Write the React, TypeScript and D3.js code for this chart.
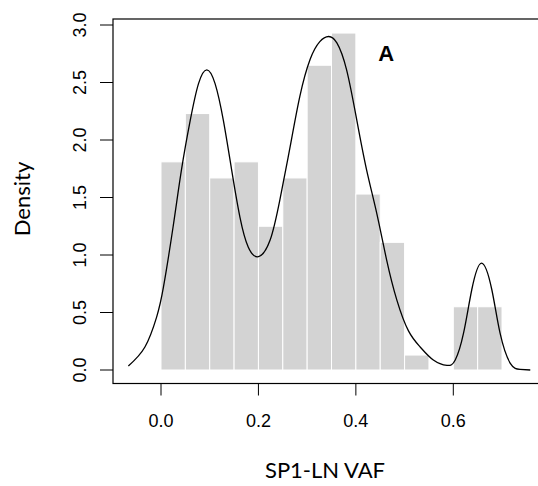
import React from 'react'
import * as d3 from 'd3'

// histogram bins (width 0.05) and their densities
const binStarts = [0, 0.05, 0.1, 0.15, 0.2, 0.25, 0.3, 0.35, 0.4, 0.45, 0.5, 0.55, 0.6, 0.65]
const binDensity = [1.81, 2.23, 1.67, 1.81, 1.25, 1.67, 2.65, 2.93, 1.53, 1.11, 0.13, 0, 0.55, 0.55]
const binWidth = 0.05

// kernel density curve
const kdeX = [-0.067, -0.033, -0.009, 0.005, 0.025, 0.042, 0.06, 0.077, 0.094, 0.111, 0.128, 0.145, 0.162, 0.179, 0.2, 0.224, 0.244, 0.265, 0.285, 0.306, 0.326, 0.344, 0.361, 0.381, 0.402, 0.422, 0.443, 0.463, 0.484, 0.508, 0.532, 0.559, 0.587, 0.604, 0.621, 0.638, 0.658, 0.679, 0.696, 0.717, 0.737, 0.758]
const kdeY = [0.035, 0.2, 0.46, 0.72, 1.25, 1.74, 2.17, 2.49, 2.61, 2.49, 2.17, 1.74, 1.33, 1.07, 0.985, 1.13, 1.48, 1.94, 2.38, 2.7, 2.855, 2.9, 2.845, 2.61, 2.17, 1.74, 1.36, 0.96, 0.61, 0.34, 0.2, 0.087, 0.04, 0.087, 0.32, 0.7, 0.93, 0.7, 0.32, 0.058, 0.006, 0]

const xTicks = [0, 0.2, 0.4, 0.6]
const yTicks = [0, 0.5, 1, 1.5, 2, 2.5, 3]

const W = 538
const H = 486

export default function App() {
  // plot region (right edge falls outside the picture)
  const x = d3.scaleLinear().domain([0, 0.6]).range([161, 453.3])
  const y = d3.scaleLinear().domain([0, 3]).range([370, 25])
  const box = { left: 113, top: 19, right: 560, bottom: 383.5 }

  const line = d3
    .line<number>()
    .x((d, i) => x(kdeX[i]))
    .y(d => y(d))
    .curve(d3.curveNatural)

  const tickFont = '"Liberation Sans", Arial, sans-serif'
  const titleFont = 'Lato, "Open Sans", sans-serif'

  return (
    <svg width={W} height={H} style={{ position: 'absolute', left: 0, top: 0 }}>
      <rect width={W} height={H} fill="white" />

      {binStarts.map((b, i) => (
        <rect
          key={i}
          x={x(b)}
          y={y(binDensity[i])}
          width={x(b + binWidth) - x(b)}
          height={y(0) - y(binDensity[i])}
          fill="#d3d3d3"
          stroke="white"
          strokeWidth={1}
        />
      ))}

      <path d={line(kdeY) || ''} fill="none" stroke="black" strokeWidth={1.3} />

      <text x={x(0.462)} y={y(2.69)} fontFamily={tickFont} fontWeight="bold" fontSize={22} textAnchor="middle">
        A
      </text>

      <rect
        x={box.left}
        y={box.top}
        width={box.right - box.left}
        height={box.bottom - box.top}
        fill="none"
        stroke="black"
        strokeWidth={1.2}
      />

      {/* axes */}
      <g fontFamily={tickFont} fontSize={18}>
        {xTicks.map(t => (
          <g key={t}>
            <line x1={x(t)} x2={x(t)} y1={box.bottom} y2={box.bottom + 12} stroke="black" />
            <text x={x(t)} y={426.5} textAnchor="middle">
              {t.toFixed(1)}
            </text>
          </g>
        ))}
        {yTicks.map(t => (
          <g key={t}>
            <line x1={box.left - 13} x2={box.left} y1={y(t)} y2={y(t)} stroke="black" />
            <text transform={`translate(85.5,${y(t)}) rotate(-90)`} textAnchor="middle">
              {t.toFixed(1)}
            </text>
          </g>
        ))}
      </g>

      <text x={325} y={478} fontFamily={titleFont} fontSize={22} textAnchor="middle">
        SP1-LN VAF
      </text>
      <text transform="translate(30,199) rotate(-90)" fontFamily={titleFont} fontSize={22} textAnchor="middle">
        Density
      </text>
    </svg>
  )
}
